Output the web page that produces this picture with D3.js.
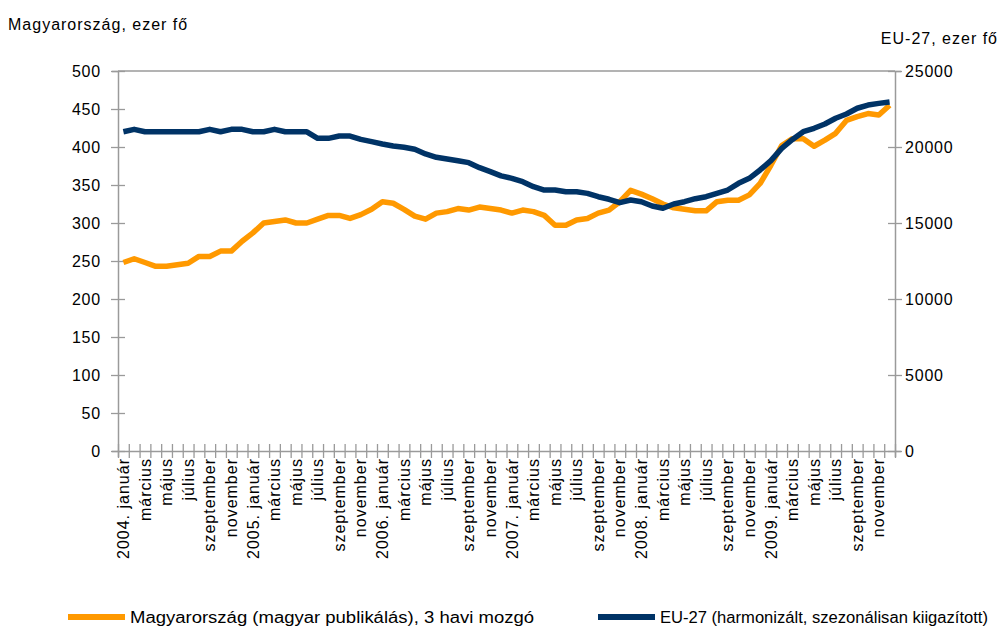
<!DOCTYPE html>
<html>
<head>
<meta charset="utf-8">
<script src="https://cdn.jsdelivr.net/npm/d3@7"></script>
<style>
  html, body { margin: 0; padding: 0; background: #fff; }
  svg text { font-family: "Liberation Sans", Arial, sans-serif; fill: #000; }
</style>
</head>
<body>
<svg id="chart" width="1000" height="626"></svg>
<script>
// ---- DATA ----
const years = [2004, 2005, 2006, 2007, 2008, 2009];
const monthNames = ["január","február","március","április","május","június",
                    "július","augusztus","szeptember","október","november","december"];
// Hungary (Hungarian publication), 3-month moving, thousand persons (left axis)
const hungary = [
  248, 253, 248, 243, 243, 245, 247, 256, 256, 263, 263, 276,
  287, 300, 302, 304, 300, 300, 305, 310, 310, 306, 311, 318,
  328, 326, 318, 309, 305, 313, 315, 319, 317, 321, 319, 317,
  313, 317, 315, 310, 297, 297, 304, 306, 313, 317, 328, 343,
  338, 332, 325, 320, 318, 316, 316, 328, 330, 330, 337, 352,
  376, 402, 411, 411, 401, 409, 418, 435, 440, 444, 442, 455
];
// EU-27 (harmonised, seasonally adjusted), thousand persons (right axis)
const eu27 = [
  21000, 21160, 21000, 21000, 21000, 21000, 21000, 21000, 21160, 21000, 21160, 21160,
  21000, 21000, 21160, 21000, 21000, 21000, 20570, 20570, 20720, 20720, 20500, 20350,
  20200, 20070, 19980, 19850, 19540, 19320, 19210, 19100, 18970, 18640, 18380, 18100,
  17940, 17720, 17390, 17170, 17170, 17060, 17060, 16950, 16730, 16560, 16340, 16510,
  16400, 16120, 15970, 16250, 16400, 16600, 16730, 16950, 17170, 17610, 17940, 18490,
  19100, 19910, 20500, 21010, 21230, 21510, 21890, 22170, 22550, 22760, 22870, 22960
];
const leftTicks = [0, 50, 100, 150, 200, 250, 300, 350, 400, 450, 500];
const rightTicks = [0, 5000, 10000, 15000, 20000, 25000];
const leftTitle = "Magyarország, ezer fő";
const rightTitle = "EU-27, ezer fő";
const seriesNames = ["Magyarország (magyar publikálás), 3 havi mozgó",
                     "EU-27 (harmonizált, szezonálisan kiigazított)"];
const colors = ["#FF9900", "#003366"];

// categories: every month; labels shown every second month
const categories = [];
years.forEach(y => monthNames.forEach((m, k) => {
  categories.push(k === 0 ? y + ". " + m : m);
}));

// ---- LAYOUT ----
const svg = d3.select("#chart");
const L = 118, R = 895, T = 71, B = 451;
const axisColor = "#9a9a9a";
const fs = 16;

const x = d3.scaleBand().domain(d3.range(categories.length)).range([L, R]).padding(0);
const xc = i => x(i) + x.bandwidth() / 2;
const xb = d3.scaleLinear().domain([0, categories.length]).range([L, R]);
const yL = d3.scaleLinear().domain([0, 500]).range([B, T]);
const yR = d3.scaleLinear().domain([0, 25000]).range([B, T]);

// top border
svg.append("line").attr("x1", L).attr("x2", R).attr("y1", T).attr("y2", T)
  .attr("stroke", axisColor).attr("stroke-width", 1.3);

// left axis
const gL = svg.append("g").attr("transform", `translate(${L},0)`)
  .call(d3.axisLeft(yL).tickValues(leftTicks).tickSize(6).tickPadding(12));
gL.select(".domain").attr("stroke", axisColor).attr("stroke-width", 1.5);
gL.selectAll(".tick line").attr("x1", -7).attr("x2", 7).attr("stroke", axisColor).attr("stroke-width", 1.3);
gL.selectAll(".tick text").attr("font-size", fs).attr("letter-spacing", "0.8px")
  .attr("font-family", "Liberation Sans, Arial, sans-serif").attr("fill", "#000").attr("x", -17);

// right axis
const gR = svg.append("g").attr("transform", `translate(${R},0)`)
  .call(d3.axisRight(yR).tickValues(rightTicks).tickSize(6).tickPadding(10).tickFormat(d3.format("d")));
gR.select(".domain").attr("stroke", axisColor).attr("stroke-width", 1.5);
gR.selectAll(".tick line").attr("x1", -7).attr("x2", 7).attr("stroke", axisColor).attr("stroke-width", 1.3);
gR.selectAll(".tick text").attr("font-size", fs).attr("letter-spacing", "0.8px")
  .attr("font-family", "Liberation Sans, Arial, sans-serif").attr("fill", "#000").attr("x", 10);

// bottom axis: boundary ticks
const gB = svg.append("g").attr("transform", `translate(0,${B})`)
  .call(d3.axisBottom(xb).tickValues(d3.range(categories.length + 1)).tickSize(6).tickFormat(""));
gB.select(".domain").attr("stroke", axisColor).attr("stroke-width", 1.5);
gB.selectAll(".tick line").attr("y1", -7).attr("y2", 7).attr("stroke", axisColor).attr("stroke-width", 1.3);

// bottom labels
const gBL = svg.append("g").attr("transform", `translate(0,${B})`)
  .call(d3.axisBottom(x).tickValues(d3.range(0, categories.length, 2))
    .tickFormat(i => categories[i]).tickSize(0));
gBL.select(".domain").remove();
gBL.selectAll(".tick text")
  .attr("font-size", fs).attr("letter-spacing", "1px")
  .attr("font-family", "Liberation Sans, Arial, sans-serif").attr("fill", "#000")
  .attr("text-anchor", "end")
  .attr("transform", "rotate(-90)")
  .attr("x", -7).attr("y", 0).attr("dy", "0.35em");

// axis titles
svg.append("text").attr("x", 8).attr("y", 30).attr("font-size", fs)
  .attr("letter-spacing", "1px").text(leftTitle);
svg.append("text").attr("x", 998).attr("y", 44).attr("font-size", fs)
  .attr("letter-spacing", "1px").attr("text-anchor", "end").text(rightTitle);

// lines
const lineL = d3.line().x((d, i) => xc(i)).y(d => yL(d));
const lineR = d3.line().x((d, i) => xc(i)).y(d => yR(d));
svg.append("path").datum(hungary).attr("d", lineL)
  .attr("fill", "none").attr("stroke", colors[0]).attr("stroke-width", 5.5)
  .attr("stroke-linejoin", "round");
svg.append("path").datum(eu27).attr("d", lineR)
  .attr("fill", "none").attr("stroke", colors[1]).attr("stroke-width", 5.5)
  .attr("stroke-linejoin", "round");

// legend
const legendItems = [
  { x: 68, name: seriesNames[0], color: colors[0], w: 404 },
  { x: 598, name: seriesNames[1], color: colors[1], w: 328 }
];
const lg = svg.append("g");
legendItems.forEach(it => {
  lg.append("line").attr("x1", it.x).attr("x2", it.x + 57).attr("y1", 617).attr("y2", 617)
    .attr("stroke", it.color).attr("stroke-width", 6);
  lg.append("text").attr("x", it.x + 62).attr("y", 617).attr("dy", "0.35em")
    .attr("font-size", fs).attr("textLength", it.w).attr("lengthAdjust", "spacingAndGlyphs")
    .text(it.name);
});
</script>
</body>
</html>
